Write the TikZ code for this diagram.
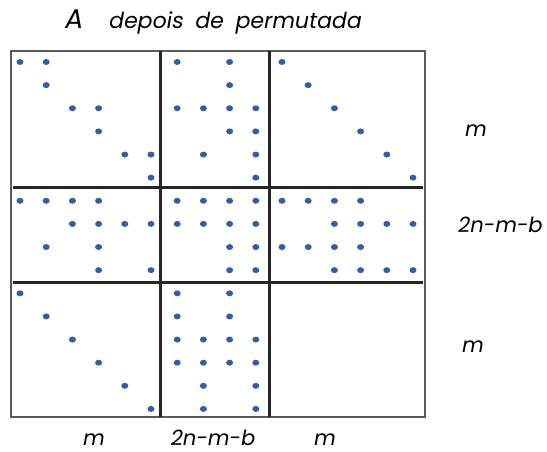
\documentclass[tikz,border=0pt]{standalone}
\usepackage{fontspec}
\usetikzlibrary{shapes.geometric}
\newfontfamily\labelfont[FakeSlant=0.18]{Poppins}
\newfontfamily\captionfont[FakeSlant=0.18, WordSpace=2]{Poppins}
\definecolor{dotBlue}{RGB}{52,92,172}
\definecolor{frameGray}{RGB}{90,90,90}

% one block of entries: row offset, column offset, list of row/column
\newcommand{\dotblock}[3]{%
  \foreach \r/\c in {#3} {%
    \pgfmathtruncatemacro{\gr}{\r+#1}%
    \pgfmathtruncatemacro{\gc}{\c+#2}%
    \node[dot] (d-\gr-\gc) at ({20+26.2*(\gc-1)},{62+23.13*(\gr-1)}) {};
  }}

\begin{document}
\begin{tikzpicture}[
    x=1pt, y=-1pt,
    dot/.style={ellipse, fill=dotBlue, inner sep=0pt, minimum width=7pt, minimum height=6pt},
    frame/.style={draw=frameGray, line width=1.2pt},
    split/.style={draw=black!85, line width=3pt},
    lbl/.style={font=\labelfont\fontsize{21}{24}\selectfont, inner sep=0pt},
    title/.style={font=\labelfont\fontsize{27}{30}\selectfont, inner sep=0pt}
]
    \useasboundingbox (0,0) rectangle (547,452);

    % Title
    \node[title, anchor=base] (letterA) at (73,29) {A};
    \node[font=\captionfont\fontsize{22}{25}\selectfont, inner sep=0pt, anchor=base west] (caption) at (108,29) {depois de permutada};

    % Frame and block lines
    \coordinate (nw) at (11,51);
    \coordinate (se) at (425,417);
    \draw[frame] (nw) rectangle (se);
    \draw[split] (160,51) -- (160,417);
    \draw[split] (269,51) -- (269,417);
    \draw[split] (13,187) -- (423,187);
    \draw[split] (13,282) -- (423,282);

    % Top row of blocks
    \dotblock{0}{0}{1/1,1/2,2/2,3/3,3/4,4/4,5/5,5/6,6/6}
    \dotblock{0}{6}{1/1,1/3,2/3,3/1,3/2,3/3,3/4,4/3,4/4,5/2,5/4,6/4}
    \dotblock{0}{10}{1/1,2/2,3/3,4/4,5/5,6/6}

    % Middle row of blocks
    \dotblock{6}{0}{1/1,1/2,1/3,1/4,2/3,2/4,2/5,2/6,3/2,3/4,4/4,4/6}
    \dotblock{6}{6}{1/1,1/2,1/3,1/4,2/1,2/2,2/3,2/4,3/3,3/4,4/3,4/4}
    \dotblock{6}{10}{1/1,1/2,1/3,1/4,2/3,2/4,2/5,2/6,3/1,3/2,3/3,3/4,4/3,4/4,4/5,4/6}

    % Bottom row of blocks
    \dotblock{10}{0}{1/1,2/2,3/3,4/4,5/5,6/6}
    \dotblock{10}{6}{1/1,1/3,2/1,2/3,3/1,3/2,3/3,3/4,4/1,4/2,4/3,4/4,5/2,5/4,6/2,6/4}

    % Sizes at the right
    \node[lbl, anchor=base] (rowTop) at (475,137) {m};
    \node[lbl, anchor=base west] (rowMid) at (457,233) {2n-m-b};
    \node[lbl, anchor=base] (rowBot) at (472,352) {m};

    % Sizes below
    \node[lbl, anchor=base] (colLeft) at (93,445) {m};
    \node[lbl, anchor=base] (colMid) at (212,445) {2n-m-b};
    \node[lbl, anchor=base] (colRight) at (324,445) {m};
\end{tikzpicture}
\end{document}
